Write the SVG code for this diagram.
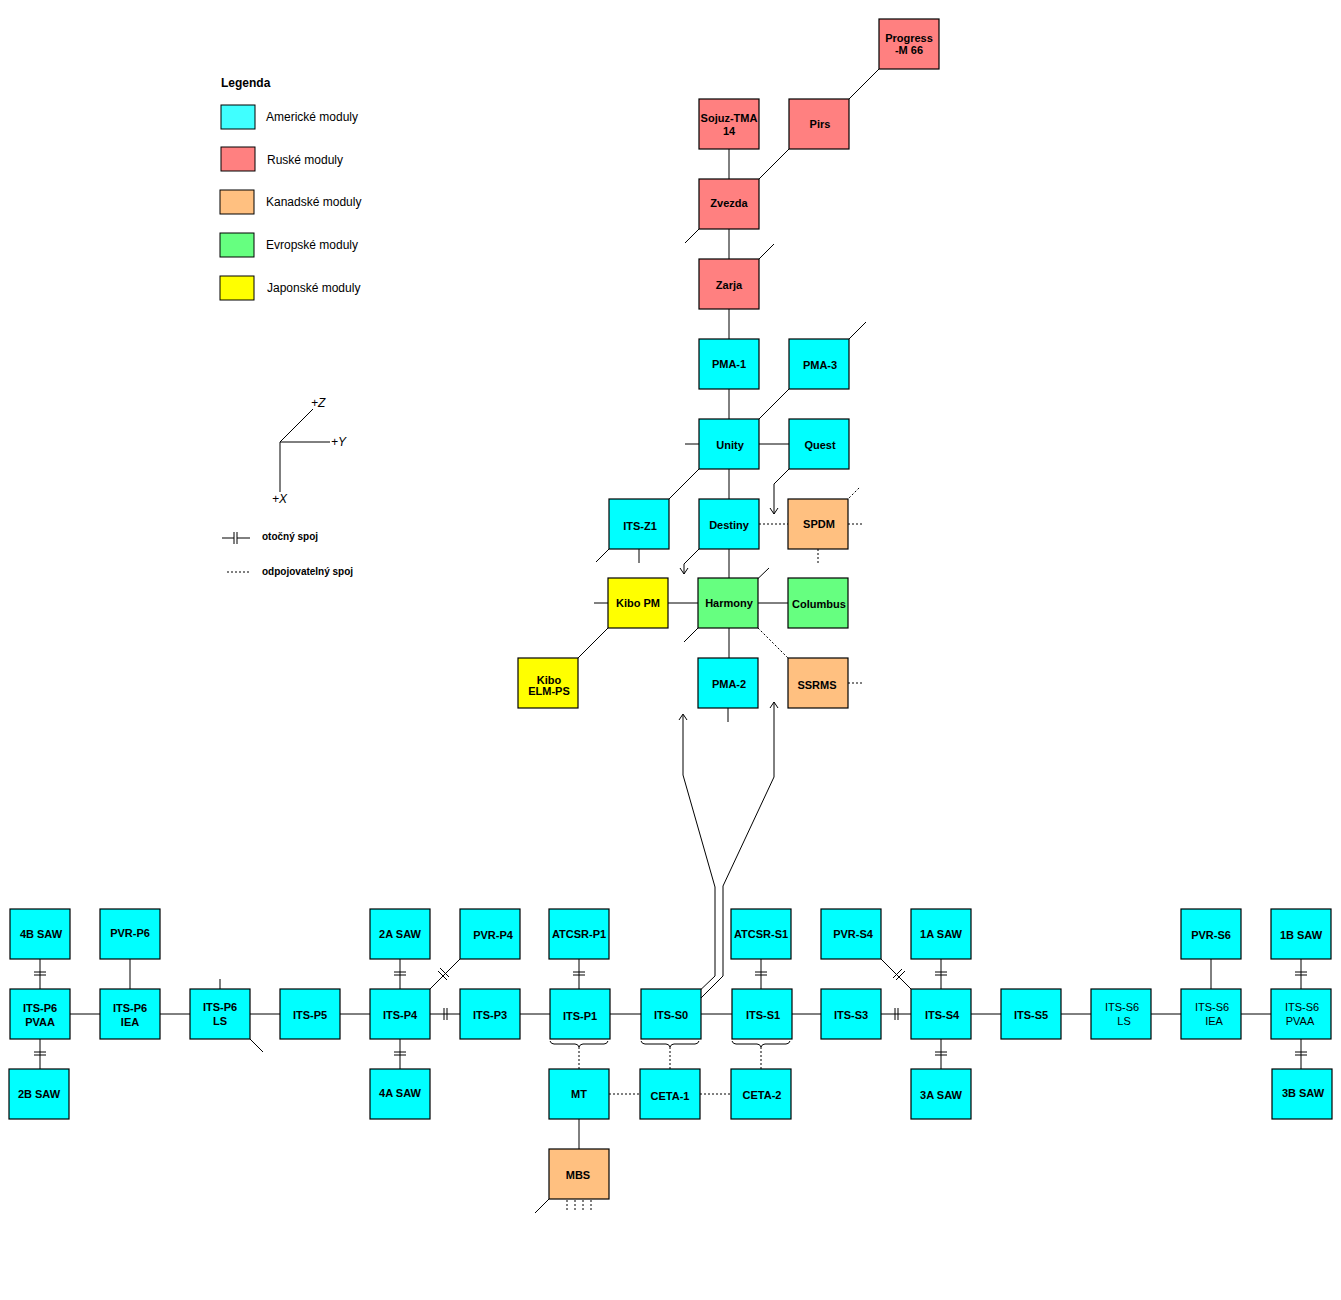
<svg xmlns="http://www.w3.org/2000/svg" width="1341" height="1300" viewBox="0 0 1341 1300">
<style>
.n rect{stroke:#000;stroke-width:1.2}
.us{fill:#00ffff}.ru{fill:#ff8080}.ca{fill:#ffc080}.eu{fill:#66ff80}.jp{fill:#ffff00}
text{font-family:"Liberation Sans",Arial,sans-serif;font-size:11px;font-weight:bold;text-anchor:middle}
.lt{font-weight:normal;font-size:12px;text-anchor:start}
.nb{font-weight:normal}
#c line,#c polyline,#c path{stroke:#000;stroke-width:1;fill:none}
#c .d{stroke-dasharray:2,2}
</style>
<rect width="1341" height="1300" fill="#fff"/>
<g id="c">
<!-- top column -->
<line x1="729" y1="149" x2="729" y2="179"/><line x1="729" y1="229" x2="729" y2="259"/>
<line x1="729" y1="309" x2="729" y2="339"/><line x1="729" y1="389" x2="729" y2="419"/>
<line x1="729" y1="469" x2="729" y2="499"/><line x1="729" y1="549" x2="729" y2="578"/>
<line x1="729" y1="628" x2="729" y2="658"/><line x1="728" y1="708" x2="728" y2="722"/>
<line x1="879" y1="69" x2="836" y2="112"/><line x1="789" y1="149" x2="746" y2="192"/>
<line x1="699" y1="229" x2="685" y2="243"/><line x1="746" y1="272" x2="774" y2="244"/>
<line x1="836" y1="352" x2="866" y2="322"/><line x1="789" y1="389" x2="746" y2="432"/>
<line x1="699" y1="469" x2="656" y2="512"/><line x1="609" y1="549" x2="596" y2="562"/>
<line x1="639" y1="549" x2="639" y2="563"/><line x1="685" y1="444" x2="699" y2="444"/>
<line x1="759" y1="444" x2="789" y2="444"/>
<polyline points="789,469 774,484 774,514"/><polyline points="770,508 774,514 778,508"/>
<polyline points="699,549 684,564 684,574"/><polyline points="680,568 684,574 688,568"/>
<line class="d" x1="759" y1="524" x2="788" y2="524"/><line class="d" x1="848" y1="524" x2="862" y2="524"/>
<line class="d" x1="818" y1="549" x2="818" y2="563"/><line class="d" x1="835" y1="512" x2="860" y2="487"/>
<line x1="594" y1="603" x2="608" y2="603"/><line x1="668" y1="603" x2="698" y2="603"/>
<line x1="758" y1="603" x2="788" y2="603"/><line x1="608" y1="628" x2="565" y2="671"/>
<line x1="745" y1="591" x2="769" y2="568"/><line x1="698" y1="628" x2="684" y2="642"/>
<line class="d" x1="758" y1="628" x2="788" y2="658"/><line class="d" x1="848" y1="683" x2="862" y2="683"/>
<!-- long paths -->
<polyline points="683,715 683,775 715,887 715,976 692,998"/><polyline points="679,720 683,714 687,720"/>
<polyline points="774,702 774,777 723,886 723,976 692,1007"/><polyline points="770,708 774,702 778,708"/>
<!-- truss row -->
<line x1="70" y1="1014" x2="100" y2="1014"/><line x1="160" y1="1014" x2="190" y2="1014"/>
<line x1="250" y1="1014" x2="280" y2="1014"/><line x1="340" y1="1014" x2="370" y2="1014"/>
<line x1="430" y1="1014" x2="460" y2="1014"/><line x1="520" y1="1014" x2="550" y2="1014"/>
<line x1="610" y1="1014" x2="641" y2="1014"/><line x1="701" y1="1014" x2="732" y2="1014"/>
<line x1="792" y1="1014" x2="821" y2="1014"/><line x1="881" y1="1014" x2="911" y2="1014"/>
<line x1="971" y1="1014" x2="1001" y2="1014"/><line x1="1061" y1="1014" x2="1091" y2="1014"/>
<line x1="1151" y1="1014" x2="1181" y2="1014"/><line x1="1241" y1="1014" x2="1271" y2="1014"/>
<!-- rotary marks on horizontal -->
<line x1="444" y1="1008" x2="444" y2="1020"/><line x1="447" y1="1008" x2="447" y2="1020"/>
<line x1="895" y1="1008" x2="895" y2="1020"/><line x1="898" y1="1008" x2="898" y2="1020"/>
<!-- verticals -->
<line x1="40" y1="959" x2="40" y2="989"/><line x1="40" y1="1039" x2="40" y2="1069"/>
<line x1="130" y1="959" x2="130" y2="989"/><line x1="220" y1="979" x2="220" y2="989"/>
<line x1="250" y1="1039" x2="263" y2="1052"/>
<line x1="400" y1="959" x2="400" y2="989"/><line x1="400" y1="1039" x2="400" y2="1069"/>
<line x1="579" y1="959" x2="579" y2="989"/><line x1="761" y1="959" x2="761" y2="989"/>
<line x1="941" y1="959" x2="941" y2="989"/><line x1="941" y1="1039" x2="941" y2="1069"/>
<line x1="1211" y1="959" x2="1211" y2="989"/>
<line x1="1301" y1="959" x2="1301" y2="989"/><line x1="1301" y1="1039" x2="1301" y2="1069"/>
<g>
<line x1="34" y1="972" x2="46" y2="972"/><line x1="34" y1="975" x2="46" y2="975"/>
<line x1="34" y1="1052" x2="46" y2="1052"/><line x1="34" y1="1055" x2="46" y2="1055"/>
<line x1="394" y1="972" x2="406" y2="972"/><line x1="394" y1="975" x2="406" y2="975"/>
<line x1="394" y1="1052" x2="406" y2="1052"/><line x1="394" y1="1055" x2="406" y2="1055"/>
<line x1="573" y1="972" x2="585" y2="972"/><line x1="573" y1="975" x2="585" y2="975"/>
<line x1="755" y1="972" x2="767" y2="972"/><line x1="755" y1="975" x2="767" y2="975"/>
<line x1="935" y1="972" x2="947" y2="972"/><line x1="935" y1="975" x2="947" y2="975"/>
<line x1="935" y1="1052" x2="947" y2="1052"/><line x1="935" y1="1055" x2="947" y2="1055"/>
<line x1="1295" y1="972" x2="1307" y2="972"/><line x1="1295" y1="975" x2="1307" y2="975"/>
<line x1="1295" y1="1052" x2="1307" y2="1052"/><line x1="1295" y1="1055" x2="1307" y2="1055"/>
</g>
<!-- diagonal rotary -->
<line x1="460" y1="959" x2="416" y2="1003"/>
<line x1="438" y1="971" x2="447" y2="980"/><line x1="440" y1="968" x2="449" y2="977"/>
<line x1="881" y1="959" x2="926" y2="1004"/>
<line x1="893" y1="978" x2="902" y2="969"/><line x1="896" y1="980" x2="905" y2="971"/>
<!-- braces & dotted -->
<path d="M550,1041 q1,3 4,3 h21 q3,0 4,3 q1,-3 4,-3 h21 q3,0 4,-3"/>
<path d="M641,1041 q1,3 4,3 h21 q3,0 4,3 q1,-3 4,-3 h21 q3,0 4,-3"/>
<path d="M732,1041 q1,3 4,3 h21 q3,0 4,3 q1,-3 4,-3 h21 q3,0 4,-3"/>
<line class="d" x1="579" y1="1047" x2="579" y2="1069"/>
<line class="d" x1="670" y1="1047" x2="670" y2="1069"/>
<line class="d" x1="761" y1="1047" x2="761" y2="1069"/>
<line class="d" x1="609" y1="1094" x2="640" y2="1094"/><line class="d" x1="700" y1="1094" x2="731" y2="1094"/>
<line x1="579" y1="1119" x2="579" y2="1149"/>
<line x1="549" y1="1199" x2="535" y2="1213"/>
<line class="d" x1="567" y1="1200" x2="567" y2="1210"/><line class="d" x1="575" y1="1200" x2="575" y2="1210"/>
<line class="d" x1="583" y1="1200" x2="583" y2="1210"/><line class="d" x1="591" y1="1200" x2="591" y2="1210"/>
</g>
<g id="legend">
<text x="221" y="87" style="text-anchor:start;font-size:12px">Legenda</text>
<rect x="221" y="105" width="34" height="24" fill="#40ffff" stroke="#000"/><text class="lt" x="266" y="121">Americké moduly</text>
<rect x="221" y="147" width="34" height="24" fill="#ff8080" stroke="#000"/><text class="lt" x="267" y="164">Ruské moduly</text>
<rect x="220" y="190" width="34" height="24" fill="#ffc080" stroke="#000"/><text class="lt" x="266" y="206">Kanadské moduly</text>
<rect x="220" y="233" width="34" height="24" fill="#66ff80" stroke="#000"/><text class="lt" x="266" y="249">Evropské moduly</text>
<rect x="220" y="276" width="34" height="24" fill="#ffff00" stroke="#000"/><text class="lt" x="267" y="292">Japonské moduly</text>
<g stroke="#000" fill="none">
<line x1="280" y1="442" x2="313" y2="409"/><line x1="280" y1="442" x2="330" y2="442"/><line x1="280" y1="442" x2="280" y2="492"/>
<line x1="222" y1="538" x2="234" y2="538"/><line x1="234" y1="532" x2="234" y2="544"/><line x1="237" y1="532" x2="237" y2="544"/><line x1="237" y1="538" x2="250" y2="538"/>
<line x1="227" y1="572" x2="249" y2="572" stroke-dasharray="2,2"/>
</g>
<text class="lt" x="311" y="407" style="font-style:italic">+<tspan font-size="12">Z</tspan></text>
<text class="lt" x="331" y="446" style="font-style:italic">+<tspan font-size="12">Y</tspan></text>
<text class="lt" x="272" y="503" style="font-style:italic">+<tspan font-size="12">X</tspan></text>
<text x="262" y="540" style="text-anchor:start;font-size:10px">otočný spoj</text>
<text x="262" y="575" style="text-anchor:start;font-size:10px">odpojovatelný spoj</text>
</g>
<g class="n" id="progress"><rect class="ru" x="879" y="19" width="60" height="50"/><text x="909" y="42">Progress</text><text x="909" y="54">-M 66</text></g>
<g class="n" id="sojuz"><rect class="ru" x="699" y="99" width="60" height="50"/><text x="729" y="122">Sojuz-TMA</text><text x="729" y="135">14</text></g>
<g class="n" id="pirs"><rect class="ru" x="789" y="99" width="60" height="50"/><text x="820" y="128">Pirs</text></g>
<g class="n" id="zvezda"><rect class="ru" x="699" y="179" width="60" height="50"/><text x="729" y="207">Zvezda</text></g>
<g class="n" id="zarja"><rect class="ru" x="699" y="259" width="60" height="50"/><text x="729" y="289">Zarja</text></g>
<g class="n" id="pma1"><rect class="us" x="699" y="339" width="60" height="50"/><text x="729" y="368">PMA-1</text></g>
<g class="n" id="pma3"><rect class="us" x="789" y="339" width="60" height="50"/><text x="820" y="369">PMA-3</text></g>
<g class="n" id="unity"><rect class="us" x="699" y="419" width="60" height="50"/><text x="730" y="449">Unity</text></g>
<g class="n" id="quest"><rect class="us" x="789" y="419" width="60" height="50"/><text x="820" y="449">Quest</text></g>
<g class="n" id="itsz1"><rect class="us" x="609" y="499" width="60" height="50"/><text x="640" y="530">ITS-Z1</text></g>
<g class="n" id="destiny"><rect class="us" x="699" y="499" width="60" height="50"/><text x="729" y="529">Destiny</text></g>
<g class="n" id="spdm"><rect class="ca" x="788" y="499" width="60" height="50"/><text x="819" y="528">SPDM</text></g>
<g class="n" id="kibopm"><rect class="jp" x="608" y="578" width="60" height="50"/><text x="638" y="607">Kibo PM</text></g>
<g class="n" id="harmony"><rect class="eu" x="698" y="578" width="60" height="50"/><text x="729" y="607">Harmony</text></g>
<g class="n" id="columbus"><rect class="eu" x="788" y="578" width="60" height="50"/><text x="819" y="608">Columbus</text></g>
<g class="n" id="kiboelm"><rect class="jp" x="518" y="658" width="60" height="50"/><text x="549" y="684">Kibo</text><text x="549" y="695">ELM-PS</text></g>
<g class="n" id="pma2"><rect class="us" x="698" y="658" width="60" height="50"/><text x="729" y="688">PMA-2</text></g>
<g class="n" id="ssrms"><rect class="ca" x="788" y="658" width="60" height="50"/><text x="817" y="689">SSRMS</text></g>
<!-- truss top row -->
<g class="n" id="saw4b"><rect class="us" x="10" y="909" width="60" height="50"/><text x="41" y="938">4B SAW</text></g>
<g class="n" id="pvrp6"><rect class="us" x="100" y="909" width="60" height="50"/><text x="130" y="937">PVR-P6</text></g>
<g class="n" id="saw2a"><rect class="us" x="370" y="909" width="60" height="50"/><text x="400" y="938">2A SAW</text></g>
<g class="n" id="pvrp4"><rect class="us" x="460" y="909" width="60" height="50"/><text x="493" y="939">PVR-P4</text></g>
<g class="n" id="atcsrp1"><rect class="us" x="549" y="909" width="60" height="50"/><text x="579" y="938">ATCSR-P1</text></g>
<g class="n" id="atcsrs1"><rect class="us" x="731" y="909" width="60" height="50"/><text x="761" y="938">ATCSR-S1</text></g>
<g class="n" id="pvrs4"><rect class="us" x="821" y="909" width="60" height="50"/><text x="853" y="938">PVR-S4</text></g>
<g class="n" id="saw1a"><rect class="us" x="911" y="909" width="60" height="50"/><text x="941" y="938">1A SAW</text></g>
<g class="n" id="pvrs6"><rect class="us" x="1181" y="909" width="60" height="50"/><text x="1211" y="939">PVR-S6</text></g>
<g class="n" id="saw1b"><rect class="us" x="1271" y="909" width="60" height="50"/><text x="1301" y="939">1B SAW</text></g>
<!-- truss main -->
<g class="n" id="itsp6pvaa"><rect class="us" x="10" y="989" width="60" height="50"/><text x="40" y="1012">ITS-P6</text><text x="40" y="1026">PVAA</text></g>
<g class="n" id="itsp6iea"><rect class="us" x="100" y="989" width="60" height="50"/><text x="130" y="1012">ITS-P6</text><text x="130" y="1026">IEA</text></g>
<g class="n" id="itsp6ls"><rect class="us" x="190" y="989" width="60" height="50"/><text x="220" y="1011">ITS-P6</text><text x="220" y="1025">LS</text></g>
<g class="n" id="itsp5"><rect class="us" x="280" y="989" width="60" height="50"/><text x="310" y="1019">ITS-P5</text></g>
<g class="n" id="itsp4"><rect class="us" x="370" y="989" width="60" height="50"/><text x="400" y="1019">ITS-P4</text></g>
<g class="n" id="itsp3"><rect class="us" x="460" y="989" width="60" height="50"/><text x="490" y="1019">ITS-P3</text></g>
<g class="n" id="itsp1"><rect class="us" x="550" y="989" width="60" height="50"/><text x="580" y="1020">ITS-P1</text></g>
<g class="n" id="itss0"><rect class="us" x="641" y="989" width="60" height="50"/><text x="671" y="1019">ITS-S0</text></g>
<g class="n" id="itss1"><rect class="us" x="732" y="989" width="60" height="50"/><text x="763" y="1019">ITS-S1</text></g>
<g class="n" id="itss3"><rect class="us" x="821" y="989" width="60" height="50"/><text x="851" y="1019">ITS-S3</text></g>
<g class="n" id="itss4"><rect class="us" x="911" y="989" width="60" height="50"/><text x="942" y="1019">ITS-S4</text></g>
<g class="n" id="itss5"><rect class="us" x="1001" y="989" width="60" height="50"/><text x="1031" y="1019">ITS-S5</text></g>
<g class="n" id="itss6ls"><rect class="us" x="1091" y="989" width="60" height="50"/><text class="nb" x="1122" y="1011">ITS-S6</text><text class="nb" x="1124" y="1025">LS</text></g>
<g class="n" id="itss6iea"><rect class="us" x="1181" y="989" width="60" height="50"/><text class="nb" x="1212" y="1011">ITS-S6</text><text class="nb" x="1214" y="1025">IEA</text></g>
<g class="n" id="itss6pvaa"><rect class="us" x="1271" y="989" width="60" height="50"/><text class="nb" x="1302" y="1011">ITS-S6</text><text class="nb" x="1300" y="1025">PVAA</text></g>
<!-- bottom -->
<g class="n" id="saw2b"><rect class="us" x="9" y="1069" width="60" height="50"/><text x="39" y="1098">2B SAW</text></g>
<g class="n" id="saw4a"><rect class="us" x="370" y="1069" width="60" height="50"/><text x="400" y="1097">4A SAW</text></g>
<g class="n" id="mt"><rect class="us" x="549" y="1069" width="60" height="50"/><text x="579" y="1098">MT</text></g>
<g class="n" id="ceta1"><rect class="us" x="640" y="1069" width="60" height="50"/><text x="670" y="1100">CETA-1</text></g>
<g class="n" id="ceta2"><rect class="us" x="731" y="1069" width="60" height="50"/><text x="762" y="1099">CETA-2</text></g>
<g class="n" id="saw3a"><rect class="us" x="911" y="1069" width="60" height="50"/><text x="941" y="1099">3A SAW</text></g>
<g class="n" id="saw3b"><rect class="us" x="1272" y="1069" width="60" height="50"/><text x="1303" y="1097">3B SAW</text></g>
<g class="n" id="mbs"><rect class="ca" x="549" y="1149" width="60" height="50"/><text x="578" y="1179">MBS</text></g>
</svg>
